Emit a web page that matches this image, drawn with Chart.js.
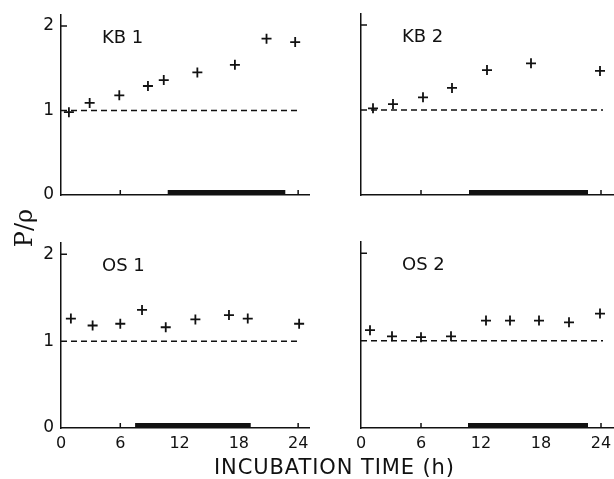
<!DOCTYPE html>
<html>
<head>
<meta charset="utf-8">
<script src="https://cdn.jsdelivr.net/npm/chart.js@4"></script>
<style>
body { margin: 0; background: #fff; }
#wrap { position: relative; width: 614px; height: 479px; overflow: hidden; background: #fff; }
canvas { position: absolute; }
.lbl { position: absolute; color: #111; white-space: nowrap; }
#xtitle { left: 214px; top: 455px; font: 21px "DejaVu Sans"; letter-spacing: 0.9px; }
#ytitle { left: 0px; top: 214px; font: 24px "DejaVu Serif"; transform: rotate(-90deg); transform-origin: center; width: 48px; text-align: center; }
</style>
</head>
<body>
<div id="wrap">
  <canvas id="kb1"></canvas>
  <canvas id="kb2"></canvas>
  <canvas id="os1"></canvas>
  <canvas id="os2"></canvas>
  <div class="lbl" id="xtitle">INCUBATION TIME (h)</div>
  <div class="lbl" id="ytitle">P/ρ</div>
</div>
<script>
// Values (hours, P/p ratio)
const kb1Hours = [0.8, 2.9, 5.9, 8.8, 10.4, 13.8, 17.6, 20.8, 23.7];
const kb1Ratio = [0.98, 1.09, 1.18, 1.29, 1.36, 1.45, 1.54, 1.85, 1.81];
const kb2Hours = [1.2, 3.2, 6.2, 9.1, 12.6, 17.0, 23.9];
const kb2Ratio = [1.02, 1.07, 1.15, 1.26, 1.47, 1.55, 1.46];
const os1Hours = [1.0, 3.2, 6.0, 8.2, 10.6, 13.6, 17.0, 18.9, 24.1];
const os1Ratio = [1.26, 1.18, 1.20, 1.36, 1.16, 1.25, 1.30, 1.26, 1.20];
const os2Hours = [0.9, 3.1, 6.0, 9.0, 12.5, 14.9, 17.8, 20.8, 23.9];
const os2Ratio = [1.12, 1.05, 1.04, 1.05, 1.23, 1.23, 1.23, 1.21, 1.31];

// dark period (black bar on the time axis), hours
const kb1Dark = [10.8, 22.7];
const kb2Dark = [10.8, 22.7];
const os1Dark = [7.5, 19.2];
const os2Dark = [10.7, 22.7];

const xTickValues = [0, 6, 12, 18, 24];
const yTickValues = [0, 1, 2];
const baselineHours = [0, 24.2];
const baselineRatio = 1;

const ink = '#111';
const font = '"DejaVu Sans", sans-serif';

// inward tick marks, dark bar and panel name
const panelExtras = {
    id: 'panelExtras',
    afterDatasetsDraw(chart, args, opts) {
        const { ctx, chartArea, scales: { x, y } } = chart;
        ctx.save();
        ctx.strokeStyle = ink;
        ctx.lineWidth = 1.5;
        ctx.beginPath();
        xTickValues.slice(1).forEach(v => {
            const px = x.getPixelForValue(v);
            ctx.moveTo(px, chartArea.bottom);
            ctx.lineTo(px, chartArea.bottom - 5);
        });
        const py = y.getPixelForValue(2);
        ctx.moveTo(chartArea.left, py);
        ctx.lineTo(chartArea.left + 6, py);
        ctx.stroke();

        const x0 = x.getPixelForValue(opts.dark[0]);
        const x1 = x.getPixelForValue(opts.dark[1]);
        ctx.fillStyle = ink;
        ctx.fillRect(x0, chartArea.bottom - 5, x1 - x0, 5);

        ctx.font = '18px ' + font;
        ctx.textBaseline = 'top';
        ctx.fillText(opts.label, chartArea.left + 41, chartArea.top + 14);
        ctx.restore();
    }
};

function makePanel(id, pos, label, hours, ratio, dark, showX, showY) {
    const canvas = document.getElementById(id);
    canvas.width = pos.w;
    canvas.height = pos.h;
    canvas.style.left = pos.left + 'px';
    canvas.style.top = pos.top + 'px';

    new Chart(canvas, {
        type: 'scatter',
        data: {
            datasets: [{
                data: hours.map((h, i) => ({ x: h, y: ratio[i] })),
                pointStyle: 'cross',
                radius: 5,
                borderWidth: 1.8,
                borderColor: ink,
                backgroundColor: ink
            }, {
                type: 'line',
                data: baselineHours.map(h => ({ x: h, y: baselineRatio })),
                borderColor: ink,
                borderWidth: 1.5,
                borderDash: [6, 4],
                pointRadius: 0,
                fill: false
            }]
        },
        options: {
            responsive: false,
            animation: false,
            layout: { autoPadding: false, padding: { top: pos.padTop, right: pos.padRight, left: 0, bottom: 0 } },
            plugins: {
                legend: { display: false },
                tooltip: { enabled: false },
                panelExtras: { label: label, dark: dark }
            },
            scales: {
                x: {
                    type: 'linear',
                    min: 0,
                    max: 25.2,
                    afterFit: s => { s.height = pos.xh; s.paddingLeft = 0; s.paddingRight = 0; },
                    afterBuildTicks: s => { s.ticks = xTickValues.map(v => ({ value: v })); },
                    grid: { display: false, drawTicks: false },
                    border: { display: true, color: ink, width: 1.5 },
                    ticks: { display: showX, color: ink, padding: 6, maxRotation: 0, font: { family: font, size: 16 } }
                },
                y: {
                    min: 0,
                    max: 2.13,
                    afterFit: s => { s.width = 61; s.paddingTop = 0; s.paddingBottom = 0; },
                    afterBuildTicks: s => { s.ticks = yTickValues.map(v => ({ value: v })); },
                    grid: { display: false, drawTicks: false },
                    border: { display: true, color: ink, width: 1.5 },
                    ticks: { display: showY, color: ink, padding: 7, font: { family: font, size: 17 } }
                }
            }
        },
        plugins: [panelExtras]
    });
}

makePanel('kb1', { left: 0, top: 0, w: 310, h: 215, padTop: 15, padRight: 0, xh: 20 }, 'KB 1', kb1Hours, kb1Ratio, kb1Dark, false, true);
makePanel('kb2', { left: 300, top: 0, w: 314, h: 215, padTop: 14, padRight: 1, xh: 20 }, 'KB 2', kb2Hours, kb2Ratio, kb2Dark, false, false);
makePanel('os1', { left: 0, top: 225, w: 310, h: 254, padTop: 18, padRight: 0, xh: 51 }, 'OS 1', os1Hours, os1Ratio, os1Dark, true, true);
makePanel('os2', { left: 300, top: 225, w: 314, h: 254, padTop: 17, padRight: 1, xh: 51 }, 'OS 2', os2Hours, os2Ratio, os2Dark, true, false);
</script>
</body>
</html>
